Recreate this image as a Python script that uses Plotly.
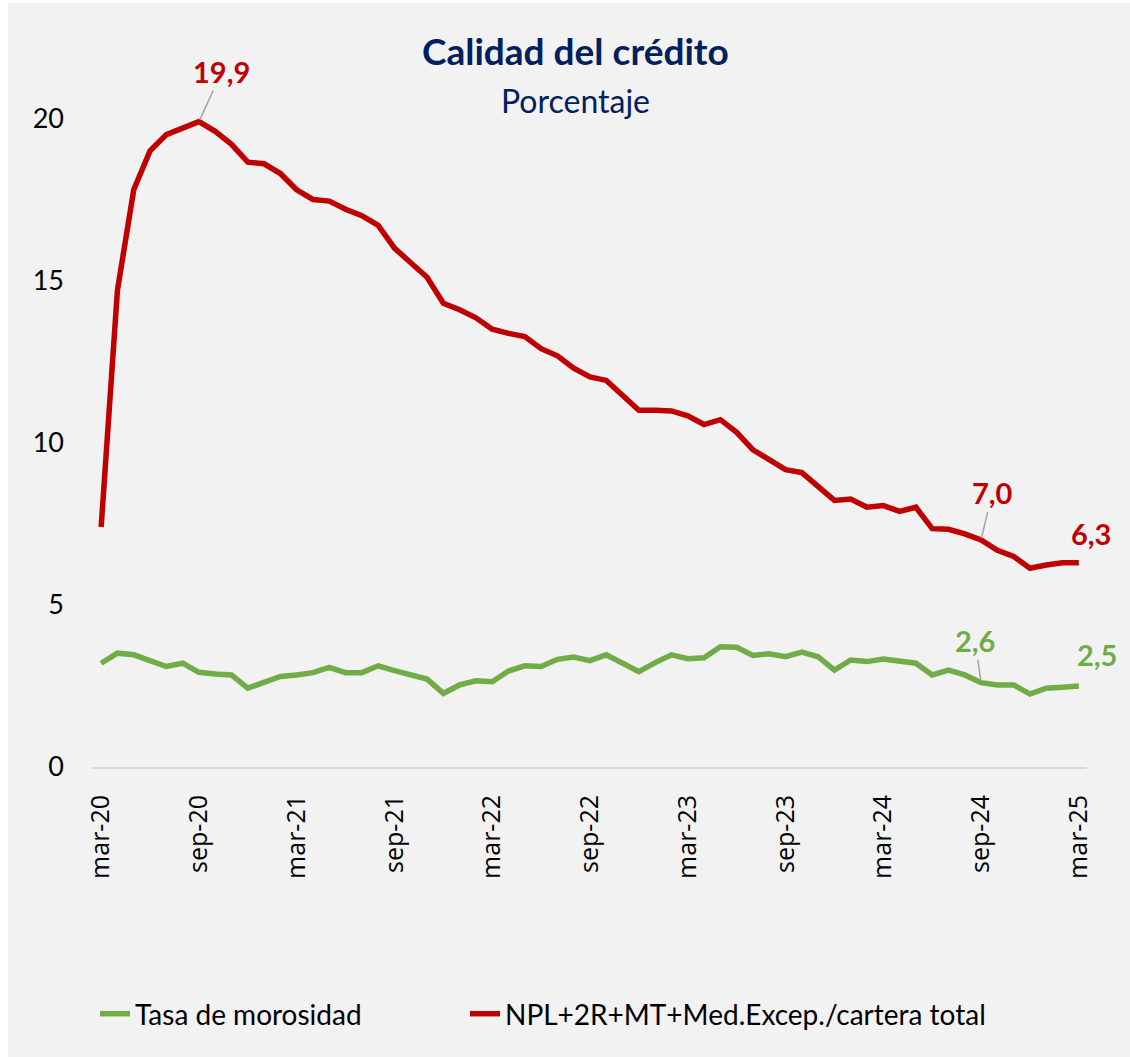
import plotly.graph_objects as go

# Monthly periods, mar-20 .. mar-25
months = ["ene", "feb", "mar", "abr", "may", "jun", "jul", "ago", "sep", "oct", "nov", "dic"]
periods = []
for year in range(20, 26):
    for m_i, m in enumerate(months):
        if (year == 20 and m_i < 2) or (year == 25 and m_i > 2):
            continue
        periods.append(f"{m}-{year}")

tick_labels = periods[::6]

# Tasa de morosidad (%)
morosidad = [
    3.20, 3.51, 3.46, 3.30, 3.10, 3.20, 2.92, 2.87, 2.84, 2.43,
    2.63, 2.79, 2.84, 2.91, 3.07, 2.91, 2.91, 3.12, 2.97, 2.84,
    2.71, 2.27, 2.53, 2.66, 2.63, 2.96, 3.12, 3.10, 3.32, 3.39,
    3.28, 3.46, 3.22, 2.94, 3.22, 3.46, 3.34, 3.37, 3.71, 3.69,
    3.44, 3.49, 3.40, 3.54, 3.40, 2.99, 3.30, 3.25, 3.33, 3.28,
    3.20, 2.84, 2.99, 2.84, 2.60, 2.53, 2.53, 2.25, 2.43, 2.46,
    2.50,
]

# NPL+2R+MT+Med.Excep./cartera total (%)
npl_ampliado = [
    7.40, 14.70, 17.80, 19.00, 19.50, 19.70, 19.90, 19.60, 19.20, 18.65,
    18.60, 18.30, 17.80, 17.50, 17.45, 17.20, 17.00, 16.70, 16.00, 15.55,
    15.10, 14.30, 14.10, 13.85, 13.50, 13.37, 13.27, 12.90, 12.68, 12.30,
    12.03, 11.92, 11.45, 11.00, 11.00, 10.98, 10.83, 10.56, 10.71, 10.32,
    9.78, 9.49, 9.17, 9.08, 8.67, 8.22, 8.26, 8.01, 8.06, 7.88,
    8.01, 7.35, 7.33, 7.19, 7.00, 6.68, 6.49, 6.13, 6.23, 6.30,
    6.30,
]

GREEN = "#70AD47"
RED = "#C00000"
NAVY = "#002060"
BG = "#F2F2F2"
FONT = "Lato"

W, H = 1130, 1057
M_L, M_R, M_T, M_B = 93, 43, 40, 290
PW, PH = W - M_L - M_R, H - M_T - M_B
Y_PX_PER_UNIT = 32.43
Y_MAX = PH / Y_PX_PER_UNIT

fig = go.Figure()
fig.add_trace(go.Scatter(
    x=periods, y=morosidad, mode="lines", name="Tasa de morosidad",
    line=dict(color=GREEN, width=5.5), legend="legend",
))
fig.add_trace(go.Scatter(
    x=periods, y=npl_ampliado, mode="lines",
    name="NPL+2R+MT+Med.Excep./cartera total",
    line=dict(color=RED, width=5.5), legend="legend2",
))


def px_to_paper_x(px):
    return (px - M_L) / PW


def px_to_paper_y(py):
    return (H - M_B - py) / PH


# Light-grey chart panel, leaving a thin white strip at top and left
fig.add_shape(
    type="rect", xref="paper", yref="paper", layer="below",
    x0=px_to_paper_x(8), x1=px_to_paper_x(W + 5),
    y0=px_to_paper_y(H + 5), y1=px_to_paper_y(3),
    fillcolor=BG, line=dict(width=0),
)

annots = []


def value_label(idx, series, color, ax=None, ay=None, xshift=0, yshift=0):
    v = series[idx]
    txt = f"{v:.1f}".replace(".", ",")
    a = dict(
        x=periods[idx], y=v, xref="x", yref="y", text=f"<b>{txt}</b>",
        font=dict(family=FONT, size=29, color=color),
    )
    if ax is not None:
        a.update(showarrow=True, ax=ax, ay=ay, axref="pixel", ayref="pixel",
                 arrowhead=0, arrowwidth=1.5, arrowcolor="#A6A6A6", standoff=2)
    else:
        a.update(showarrow=False, xshift=xshift, yshift=yshift)
    annots.append(a)


peak = npl_ampliado.index(max(npl_ampliado))
sep24 = periods.index("sep-24")
last = len(periods) - 1
value_label(peak, npl_ampliado, RED, ax=23, ay=-50)
value_label(sep24, npl_ampliado, RED, ax=11, ay=-47)
value_label(last, npl_ampliado, RED, xshift=12, yshift=29)
value_label(sep24, morosidad, GREEN, ax=-6, ay=-42)
value_label(last, morosidad, GREEN, xshift=18, yshift=31)

annots.append(dict(
    xref="paper", yref="paper", x=px_to_paper_x(575), y=px_to_paper_y(50),
    text="<b>Calidad del crédito</b>", showarrow=False,
    font=dict(family=FONT, size=37, color=NAVY), xanchor="center", yanchor="middle",
))
annots.append(dict(
    xref="paper", yref="paper", x=px_to_paper_x(575), y=px_to_paper_y(100),
    text="Porcentaje", showarrow=False,
    font=dict(family=FONT, size=32, color=NAVY), xanchor="center", yanchor="middle",
))

legend_style = dict(
    orientation="h", xanchor="left", yanchor="middle",
    font=dict(family=FONT, size=28, color="black"),
    bgcolor="rgba(0,0,0,0)", itemwidth=30,
)

fig.update_layout(
    width=W, height=H,
    margin=dict(l=M_L, r=M_R, t=M_T, b=M_B, autoexpand=False),
    paper_bgcolor="white", plot_bgcolor=BG,
    annotations=annots,
    showlegend=True,
    legend=dict(x=px_to_paper_x(95), y=px_to_paper_y(1014), **legend_style),
    legend2=dict(x=px_to_paper_x(465), y=px_to_paper_y(1014), **legend_style),
    hovermode=False,
)

fig.update_xaxes(
    type="category", range=[-0.5, len(periods) - 0.5],
    tickmode="array", tickvals=tick_labels, ticktext=tick_labels,
    tickangle=-90, tickfont=dict(family="Open Sans", size=25, color="black"),
    showgrid=False, zeroline=False, showline=True, linecolor="#D9D9D9", linewidth=2,
    ticks="", ticklabelstandoff=16,
)
fig.update_yaxes(
    range=[0, Y_MAX], tickmode="array", tickvals=[0, 5, 10, 15, 20],
    tickfont=dict(family=FONT, size=27, color="black"),
    showgrid=False, zeroline=False, showline=False, ticks="",
    ticklabelstandoff=28,
)

fig.write_html("out.html")
